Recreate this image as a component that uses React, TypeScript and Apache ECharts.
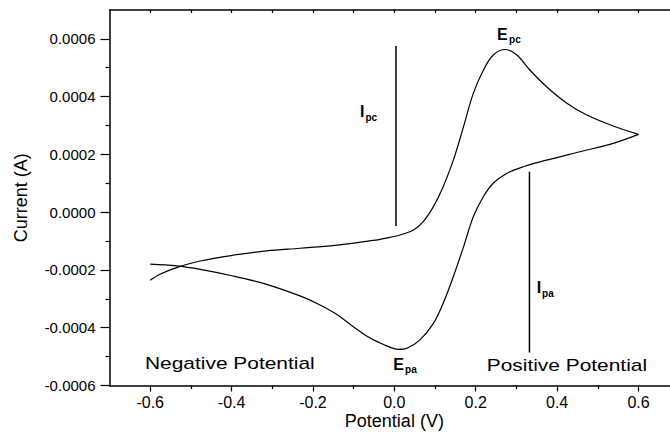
import React, { useEffect, useRef } from "react";
import * as echarts from "echarts";

// Forward sweep (upper branch), -0.6 V -> 0.6 V
const forwardPotential = [-0.600, -0.576, -0.535, -0.477, -0.396, -0.314, -0.232, -0.146, -0.064, -0.035, 0.014, 0.047, 0.071, 0.096, 0.120, 0.145, 0.170, 0.194, 0.219, 0.243, 0.272, 0.301, 0.333, 0.374, 0.424, 0.473, 0.538, 0.600];
const forwardCurrent = [-0.000236, -0.000215, -0.000192, -0.000169, -0.000149, -0.000134, -0.000125, -0.000115, -0.000100, -0.000094, -0.000079, -0.000062, -0.000033, 0.000019, 0.000088, 0.000180, 0.000296, 0.000411, 0.000492, 0.000544, 0.000563, 0.000544, 0.000492, 0.000434, 0.000377, 0.000336, 0.000298, 0.000269];

// Reverse sweep (lower branch), 0.6 V -> -0.6 V
const reversePotential = [0.600, 0.538, 0.456, 0.374, 0.317, 0.276, 0.243, 0.219, 0.194, 0.170, 0.145, 0.120, 0.096, 0.063, 0.031, 0.010, -0.019, -0.035, -0.064, -0.105, -0.146, -0.190, -0.232, -0.314, -0.396, -0.477, -0.535, -0.600];
const reverseCurrent = [0.000269, 0.000238, 0.000209, 0.000180, 0.000157, 0.000134, 0.000100, 0.000054, -0.000016, -0.000120, -0.000223, -0.000315, -0.000385, -0.000442, -0.000471, -0.000475, -0.000463, -0.000453, -0.000432, -0.000392, -0.000350, -0.000316, -0.000290, -0.000250, -0.000221, -0.000198, -0.000186, -0.000180];

// Peak-current marker lines
const ipcPotential = [0.004, 0.004];
const ipcCurrent = [-0.000048, 0.000575];
const ipaPotential = [0.332, 0.332];
const ipaCurrent = [-0.000486, 0.00014];

// Tick labels
const xTickValues = [-0.6, -0.4, -0.2, 0.0, 0.2, 0.4, 0.6];
const yTickValues = [-0.0006, -0.0004, -0.0002, 0.0, 0.0002, 0.0004, 0.0006];

// Annotations (anchored in data coordinates)
const annText = ["E", "pc", "I", "pc", "I", "pa", "E", "pa", "Negative Potential", "Positive Potential"];
const annPotential = [0.252, 0.282, -0.0845, -0.071, 0.350, 0.3629, -0.0025, 0.0263, -0.6127, 0.227];
const annCurrent = [0.000616, 0.000598, 0.00035, 0.000327, -0.00026, -0.000282, -0.000528, -0.000545, -0.000524, -0.000529];
const annKind = ["main", "sub", "main", "sub", "main", "sub", "main", "sub", "big", "big"];

const FONT = "'Liberation Sans', Arial, Helvetica, sans-serif";

export default function App() {
  const ref = useRef<HTMLDivElement>(null);

  useEffect(() => {
    if (!ref.current) return;
    const chart = echarts.init(ref.current, null, { renderer: "svg" });

    const zip = (xs: number[], ys: number[]) => xs.map((x, i) => [x, ys[i]]);
    const near = (v: number, list: number[], eps: number) => list.some((t) => Math.abs(t - v) < eps);

    const lineStyleBase = { color: "#000", width: 1.5 };

    chart.setOption({
      animation: false,
      backgroundColor: "#fff",
      grid: { left: 109.5, right: 0.8, top: 9.9, bottom: 46.5, containLabel: false, outerBoundsMode: "none" },
      xAxis: [
        {
          type: "value",
          min: -0.7,
          max: 0.7,
          splitNumber: 7,
          name: "Potential (V)",
          nameLocation: "middle",
          nameGap: 26,
          nameMoveOverlap: false,
          nameTextStyle: { fontFamily: FONT, fontSize: 18, lineHeight: 18, color: "#000" },
          axisLine: { show: true, onZero: false, lineStyle: lineStyleBase },
          axisTick: { show: true, inside: false, length: 6, lineStyle: { color: "#000", width: 1.2 }, customValues: xTickValues },
          minorTick: { show: true, splitNumber: 2, length: 3.5, lineStyle: { color: "#000", width: 1.2 } },
          axisLabel: {
            show: true,
            margin: 9,
            fontFamily: FONT,
            fontSize: 16,
            color: "#000",
            customValues: xTickValues,
            formatter: (v: number) => (near(v, xTickValues, 1e-6) ? v.toFixed(1) : ""),
          },
          splitLine: { show: false },
        },
        {
          type: "value",
          position: "top",
          min: -0.7,
          max: 0.7,
          splitNumber: 7,
          axisLine: { show: true, onZero: false, lineStyle: lineStyleBase },
          axisTick: { show: true, inside: true, length: 3, lineStyle: { color: "#000", width: 1.2 }, customValues: xTickValues },
          minorTick: { show: true, splitNumber: 2, length: 3, lineStyle: { color: "#000", width: 1.2 } },
          axisLabel: { show: false },
          splitLine: { show: false },
        },
      ],
      yAxis: {
        type: "value",
        min: -0.0006,
        max: 0.0007,
        interval: 0.0002,
        name: "Current (A)",
        nameLocation: "middle",
        nameGap: 80,
        nameRotate: 90,
        nameMoveOverlap: false,
        nameTextStyle: { fontFamily: FONT, fontSize: 18, color: "#000" },
        axisLine: { show: true, onZero: false, lineStyle: lineStyleBase },
        axisTick: { show: true, inside: false, length: 9, lineStyle: { color: "#000", width: 1.2 }, customValues: yTickValues },
        minorTick: { show: true, splitNumber: 2, length: 4, lineStyle: { color: "#000", width: 1.2 } },
        axisLabel: {
          show: true,
          margin: 14,
          fontFamily: FONT,
          fontSize: 15,
          color: "#000",
          customValues: yTickValues,
          formatter: (v: number) => (near(v, yTickValues, 1e-9) ? v.toFixed(4) : ""),
        },
        splitLine: { show: false },
      },
      series: [
        {
          name: "Forward sweep",
          type: "line",
          data: zip(forwardPotential, forwardCurrent),
          smooth: 0.35,
          showSymbol: false,
          symbol: "none",
          lineStyle: { color: "#000", width: 1.2 },
          silent: true,
        },
        {
          name: "Reverse sweep",
          type: "line",
          data: zip(reversePotential, reverseCurrent),
          smooth: 0.35,
          showSymbol: false,
          symbol: "none",
          lineStyle: { color: "#000", width: 1.2 },
          silent: true,
        },
        {
          name: "Ipc",
          type: "line",
          data: zip(ipcPotential, ipcCurrent),
          showSymbol: false,
          symbol: "none",
          lineStyle: { color: "#000", width: 1.5 },
          silent: true,
        },
        {
          name: "Ipa",
          type: "line",
          data: zip(ipaPotential, ipaCurrent),
          showSymbol: false,
          symbol: "none",
          lineStyle: { color: "#000", width: 1.5 },
          silent: true,
        },
      ],
    });

    const graphic = annText.map((text, i) => {
      const p = chart.convertToPixel({ xAxisIndex: 0, yAxisIndex: 0 }, [annPotential[i], annCurrent[i]]) as number[];
      const kind = annKind[i];
      const style: any = {
        text,
        fill: "#000",
        fontFamily: FONT,
        align: "left",
        verticalAlign: "middle",
      };
      let scaleX = 1;
      if (kind === "main") {
        style.fontSize = 16;
        style.fontWeight = "bold";
      } else if (kind === "sub") {
        style.fontSize = 10;
        style.fontWeight = "bold";
      } else {
        style.fontSize = 17;
        style.fontWeight = "normal";
        scaleX = 1.23;
      }
      return { type: "text", x: p[0], y: p[1], scaleX, scaleY: 1, silent: true, style };
    });
    chart.setOption({ graphic });

    return () => chart.dispose();
  }, []);

  return (
    <div style={{ position: "fixed", left: 0, top: 0, width: 670, height: 432, overflow: "hidden", background: "#fff" }}>
      <div ref={ref} style={{ width: 680, height: 432 }} />
    </div>
  );
}
